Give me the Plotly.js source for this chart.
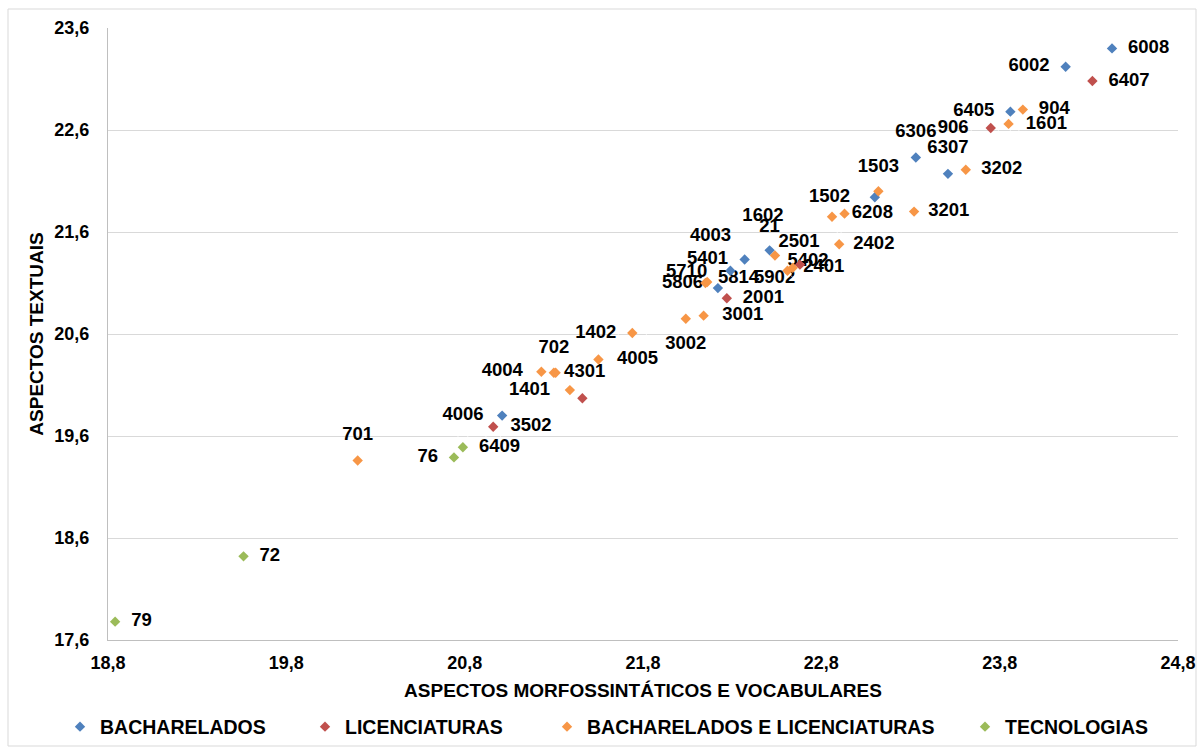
<!DOCTYPE html>
<html>
<head>
<meta charset="utf-8">
<script src="https://cdn.plot.ly/plotly-3.0.1.min.js"></script>
<style>
  html, body { margin: 0; padding: 0; background: #ffffff; }
  #chart { width: 1203px; height: 753px; }
</style>
</head>
<body>
<div id="chart"></div>
<script>
// ---- Data ----
const seriesNames = ["BACHARELADOS", "LICENCIATURAS", "BACHARELADOS E LICENCIATURAS", "TECNOLOGIAS"];

const bachLabels = ["6008", "6002", "6405", "6306", "6307", "1502", "21", "4003", "5401", "5814", "4006"];
const bachX      = [24.43, 24.17, 23.86, 23.33, 23.51, 23.10, 22.51, 22.37, 22.29, 22.22, 21.01];
const bachY      = [23.40, 23.22, 22.78, 22.33, 22.17, 21.94, 21.42, 21.33, 21.22, 21.05, 19.80];

const licLabels = ["6407", "906", "5902", "2001", "", "3502"];
const licX      = [24.32, 23.75, 22.68, 22.27, 21.46, 20.96];
const licY      = [23.08, 22.62, 21.28, 20.95, 19.97, 19.69];

const blLabels = ["904", "1601", "3202", "1503", "3201", "6208", "1602", "2402", "2501", "5402", "2401",
                  "5806", "5710", "3001", "3002", "1402", "4005", "702", "4301", "4004", "1401", "701"];
const blX      = [23.93, 23.85, 23.61, 23.12, 23.32, 22.93, 22.86, 22.90, 22.54, 22.61, 22.64,
                  22.15, 22.16, 22.14, 22.04, 21.74, 21.55, 21.30, 21.31, 21.23, 21.39, 20.20];
const blY      = [22.80, 22.66, 22.21, 22.00, 21.80, 21.78, 21.75, 21.48, 21.37, 21.22, 21.25,
                  21.10, 21.11, 20.78, 20.75, 20.61, 20.35, 20.22, 20.22, 20.23, 20.05, 19.36];

const tecLabels = ["6409", "76", "72", "79"];
const tecX      = [20.79, 20.74, 19.56, 18.84];
const tecY      = [19.49, 19.39, 18.42, 17.78];

// ---- Label placement (style only): side of the point and distance from it ----
const bachPos = ["middle right", "middle left", "middle left", "top center", "top center", "middle left",
                 "top center", "top left", "top left", "top right", "middle left"];
const bachGap = [24, 24, 24, 24, 24, 38, 21, 20, 2, 0, 28];
const licPos  = ["middle right", "middle left", "bottom left", "middle right", "middle right", "middle right"];
const licGap  = [24, 34, 6, 24, 0, 26];
const blPos   = ["middle right", "middle right", "middle right", "top center", "middle right", "middle right",
                 "middle left", "middle right", "top right", "top right", "middle right",
                 "middle left", "top left", "middle right", "bottom center", "middle left", "middle right",
                 "top center", "middle right", "middle left", "middle left", "top center"];
const blGap   = [24, 26, 23, 21, 21, 10, 76, 21, 4, 0, 15, 2, 0, 28, 24, 24, 28, 22, 12, 28, 30, 24];
const tecPos  = ["middle right", "middle left", "middle right", "middle right"];
const tecGap  = [24, 24, 24, 24];

const colors = ["#4F81BD", "#C0504D", "#F79646", "#9BBB59"];
const labelFont = { family: "Liberation Sans, Arial, sans-serif", size: 18.5, color: "#000000", weight: "bold" };

function markerTrace(name, x, y, color, legendId) {
  return {
    type: "scatter", mode: "markers", name: name,
    x: x, y: y,
    marker: { symbol: "diamond", size: 8, color: color },
    cliponaxis: false, legend: legendId
  };
}
function labelTrace(x, y, labels, pos, gap) {
  return {
    type: "scatter", mode: "markers+text",
    x: x, y: y, text: labels, textposition: pos, textfont: labelFont,
    marker: { symbol: "diamond", size: gap, color: "rgba(0,0,0,0)" },
    cliponaxis: false, showlegend: false, hoverinfo: "skip"
  };
}

const traces = [
  labelTrace(bachX, bachY, bachLabels, bachPos, bachGap),
  labelTrace(licX, licY, licLabels, licPos, licGap),
  labelTrace(blX, blY, blLabels, blPos, blGap),
  labelTrace(tecX, tecY, tecLabels, tecPos, tecGap),
  markerTrace(seriesNames[0], bachX, bachY, colors[0], "legend"),
  markerTrace(seriesNames[1], licX, licY, colors[1], "legend2"),
  markerTrace(seriesNames[2], blX, blY, colors[2], "legend3"),
  markerTrace(seriesNames[3], tecX, tecY, colors[3], "legend4")
];

const tickFont = { family: "Liberation Sans, Arial, sans-serif", size: 18, color: "#000000", weight: "bold" };
const titleFont = { family: "Liberation Sans, Arial, sans-serif", size: 19, color: "#000000", weight: "bold" };
const legFont = { family: "Liberation Sans, Arial, sans-serif", size: 19.5, color: "#000000", weight: "bold" };

function leg(xpx) {
  return {
    xref: "container", yref: "container",
    x: xpx / 1203, xanchor: "left",
    y: (753 - 727) / 753, yanchor: "middle",
    orientation: "h", font: legFont, itemwidth: 30,
    bgcolor: "rgba(0,0,0,0)", borderwidth: 0
  };
}

const layout = {
  width: 1203, height: 753,
  paper_bgcolor: "#ffffff", plot_bgcolor: "#ffffff",
  separators: ",.",
  margin: { l: 108, r: 25, t: 28, b: 113, autoexpand: false },
  showlegend: true,
  legend: leg(60), legend2: leg(305), legend3: leg(547), legend4: leg(965),
  xaxis: {
    range: [18.8, 24.8], tick0: 18.8, dtick: 1, tickformat: ".1f",
    showgrid: false, zeroline: false,
    showline: true, linecolor: "#bfbfbf", linewidth: 1,
    ticks: "", tickfont: tickFont, ticklabelstandoff: 6,
    title: { text: "ASPECTOS MORFOSSINTÁTICOS E VOCABULARES", font: titleFont, standoff: 12 }
  },
  yaxis: {
    range: [17.6, 23.6], tick0: 17.6, dtick: 1, tickformat: ".1f",
    showgrid: true, gridcolor: "#d9d9d9", gridwidth: 1, zeroline: false,
    showline: true, linecolor: "#bfbfbf", linewidth: 1,
    ticks: "", tickfont: tickFont, ticklabelstandoff: 14,
    title: { text: "ASPECTOS TEXTUAIS", font: titleFont, standoff: 5 }
  },
  shapes: [{
    type: "rect", xref: "paper", yref: "paper",
    x0: (8 - 108) / 1070, x1: (1196 - 108) / 1070,
    y0: (640 - 746) / 612, y1: (640 - 9) / 612,
    line: { color: "#d9d9d9", width: 1 }, fillcolor: "rgba(0,0,0,0)", layer: "below"
  }]
};

Plotly.newPlot("chart", traces, layout, { displayModeBar: false, responsive: false });
</script>
</body>
</html>
